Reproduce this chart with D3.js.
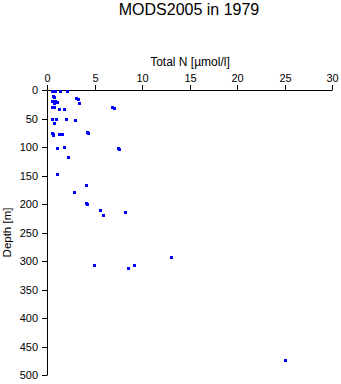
<!DOCTYPE html>
<html>
<head>
<meta charset="utf-8">
<script src="https://cdn.jsdelivr.net/npm/d3@7/dist/d3.min.js"></script>
<style>
  html, body { margin: 0; padding: 0; background: #fff; }
  svg { display: block; font-family: "Liberation Sans", Arial, Helvetica, sans-serif; }
</style>
</head>
<body>
<svg id="chart" width="341" height="384"></svg>
<script>
// Total nitrogen profile samples: concentration (µmol/l) and depth (m)
const totalN = [0.5, 0.84, 1.37, 2.11, 3.1, 3.3, 0.6, 0.75, 0.55, 0.84, 1.05, 0.72, 3.42,
  0.5, 0.75, 1.25, 1.77, 6.85, 7.0, 0.5, 0.92, 0.7, 1.98, 2.93,
  0.5, 0.6, 0.68, 1.3, 1.55, 4.2, 4.27, 1.03, 1.77, 7.5, 7.62, 2.19, 1.03,
  4.09, 2.79, 4.12, 4.2, 5.56, 5.88, 8.19, 13.1, 4.93, 9.14, 8.51, 25.03];
const depth = [1, 1, 1, 1, 14, 15, 10, 13, 19, 20, 21, 23, 23,
  30, 30, 33, 33, 29, 31, 51.5, 51.5, 58, 51.5, 53,
  75, 77, 79, 77, 77, 74, 76, 102, 100.5, 102, 103, 118, 147,
  167, 179.5, 198, 200, 211, 220, 214.6, 292.5, 307.6, 307.6, 313, 474];

const xTicks = [0, 5, 10, 15, 20, 25, 30];
const yTicks = [0, 50, 100, 150, 200, 250, 300, 350, 400, 450, 500];

const svg = d3.select("#chart");

const x = d3.scaleLinear().domain([0, 30]).range([47, 332]).interpolate(d3.interpolateRound);
const y = d3.scaleLinear().domain([0, 500]).range([90, 375]).interpolate(d3.interpolateRound);

// Title
svg.append("text")
  .attr("x", 189).attr("y", 15)
  .attr("text-anchor", "middle")
  .attr("font-size", 16)
  .text("MODS2005 in 1979");

// Top axis
const xAxis = svg.append("g")
  .attr("transform", `translate(0,${y(0)})`)
  .call(d3.axisTop(x).tickValues(xTicks).tickSizeInner(5).tickSizeOuter(0).tickPadding(3));

// Left axis
const yAxis = svg.append("g")
  .attr("transform", `translate(${x(0)},0)`)
  .call(d3.axisLeft(y).tickValues(yTicks).tickSizeInner(5).tickSizeOuter(0).tickPadding(4));

[xAxis, yAxis].forEach(g => {
  g.attr("font-family", null).attr("font-size", 11);
  g.selectAll("text").attr("fill", "#000");
  g.selectAll("line, path").attr("stroke", "#000");
});

// Axis titles
svg.append("text")
  .attr("x", 190).attr("y", 66)
  .attr("text-anchor", "middle")
  .attr("font-size", 12)
  .text("Total N [µmol/l]");

svg.append("text")
  .attr("transform", `translate(11,${(y(0) + y(500)) / 2}) rotate(-90)`)
  .attr("text-anchor", "middle")
  .attr("font-size", 11.5)
  .text("Depth [m]");

// Sample markers
svg.append("g")
  .selectAll("rect")
  .data(totalN.map((v, i) => ({ v, d: depth[i] })))
  .join("rect")
  .attr("x", p => x(p.v) - 1)
  .attr("y", p => y(p.d) - 1)
  .attr("width", 3)
  .attr("height", 3)
  .attr("fill", "#0000ff");
</script>
</body>
</html>
